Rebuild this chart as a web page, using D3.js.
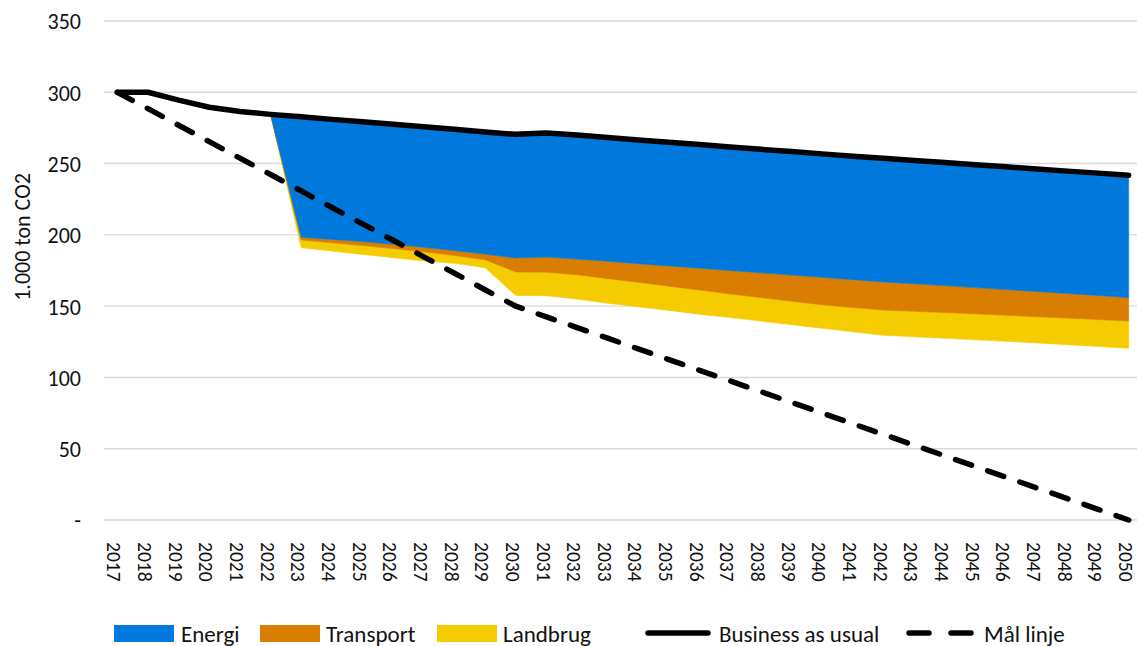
<!DOCTYPE html>
<html>
<head>
<meta charset="utf-8">
<script src="https://cdn.jsdelivr.net/npm/d3@7"></script>
<style>
  html, body { margin: 0; padding: 0; background: #fff; }
  svg { display: block; }
  text { font-family: Carlito, Lato, "Open Sans", sans-serif; fill: #111; }
</style>
</head>
<body>
<svg id="chart" width="1137" height="646"></svg>
<script>
// Years on the category axis
const years = [2017, 2018, 2019, 2020, 2021, 2022, 2023, 2024, 2025, 2026, 2027, 2028,
  2029, 2030, 2031, 2032, 2033, 2034, 2035, 2036, 2037, 2038, 2039, 2040, 2041, 2042,
  2043, 2044, 2045, 2046, 2047, 2048, 2049, 2050];

// Remaining emissions after all reductions (unfilled base of the stack)
const rest = [300, 300, 294.5, 289.5, 286.5, 284.5, 191, 188.7, 186.3, 184, 181.7, 180,
  177, 157.5, 157.3, 155, 152, 149.5, 147, 144.3, 142, 139.5, 137, 134.5, 132, 129.5,
  128.5, 127.5, 126.4, 125.3, 124.2, 123, 121.7, 120.4];

// Reductions per sector (1.000 ton CO2)
const landbrug = [0, 0, 0, 0, 0, 0, 5.4, 5.8, 6.2, 6.4, 6.5, 5.5, 5.5, 16.5, 16.5, 17,
  17.3, 17.2, 17, 17, 16.5, 16.5, 16.5, 16.5, 17, 17.8, 17.9, 18, 18.2, 18.3, 18.4,
  18.6, 18.9, 19.2];
const transport = [0, 0, 0, 0, 0, 0, 1.9, 2.3, 2.8, 3.0, 3.1, 3.5, 4.0, 9.8, 10.6, 11,
  12.2, 13.1, 14.2, 15.3, 16.5, 17.4, 18.3, 19.2, 19.6, 19.7, 19.3, 18.9, 18.4, 18,
  17.7, 17.3, 16.9, 16.4];
const energi = [0, 0, 0, 0, 0, 0, 84.5, 84.2, 84.0, 84.2, 84.5, 85, 85.7, 86.7, 87.1,
  87, 86.8, 86.8, 86.8, 86.7, 86.7, 86.6, 86.6, 86.6, 86.6, 86.7, 86.5, 86.3, 86.2,
  86.1, 85.9, 85.8, 85.8, 85.8];

// Business as usual projection
const bau = [300, 300, 294.5, 289.5, 286.5, 284.5, 282.8, 281, 279.3, 277.6, 275.8, 274,
  272.2, 270.5, 271.5, 270, 268.3, 266.6, 265, 263.3, 261.7, 260, 258.4, 256.8, 255.2,
  253.7, 252.2, 250.7, 249.2, 247.7, 246.2, 244.7, 243.3, 241.8];

// Target path (Mål linje)
const maal = [300, 288.5, 276.9, 265.4, 253.8, 242.3, 230.8, 219.2, 207.7, 196.2, 184.6,
  173.1, 161.5, 150, 142.5, 135, 127.5, 120, 112.5, 105, 97.5, 90, 82.5, 75, 67.5, 60,
  52.5, 45, 37.5, 30, 22.5, 15, 7.5, 0];

const yTicks = [0, 50, 100, 150, 200, 250, 300, 350];

const colors = { Energi: "#0078DC", Transport: "#D97E00", Landbrug: "#F5CC00" };
const fontStack = "Carlito, Lato, 'Open Sans', sans-serif";

const svg = d3.select("#chart");
const plot = { left: 102, right: 1144, top: 21, bottom: 520 };

const x = d3.scaleBand().domain(years).range([plot.left, plot.right]).padding(0);
const xc = d => x(d) + x.bandwidth() / 2;
const y = d3.scaleLinear().domain([0, 350]).range([plot.bottom, plot.top]);

// Gridlines
svg.append("g")
  .selectAll("line")
  .data(yTicks)
  .join("line")
  .attr("x1", 104)
  .attr("x2", 1137)
  .attr("y1", d => y(d))
  .attr("y2", d => y(d))
  .attr("stroke", "#d9d9d9")
  .attr("stroke-width", 1.4);

// Y axis labels
const yAxis = d3.axisLeft(y)
  .tickValues(yTicks)
  .tickSize(0)
  .tickPadding(0)
  .tickFormat(d => d === 0 ? "-" : d3.format("d")(d));
const gy = svg.append("g").attr("transform", "translate(81,0)").call(yAxis);
gy.select(".domain").remove();
gy.selectAll("text")
  .attr("font-size", 22)
  .attr("dy", "0.36em")
  .attr("fill", "#111")
  .style("font-family", fontStack);

// Y axis title
svg.append("text")
  .attr("transform", "translate(30,237) rotate(-90)")
  .attr("text-anchor", "middle")
  .attr("font-size", 22)
  .text("1.000 ton CO2");

// X axis labels (rotated)
const xAxis = d3.axisBottom(x).tickSize(0).tickPadding(0);
const gx = svg.append("g").attr("transform", `translate(-3,${plot.bottom})`).call(xAxis);
gx.select(".domain").remove();
gx.selectAll("text")
  .attr("font-size", 19.5)
  .attr("fill", "#111")
  .style("font-family", fontStack)
  .attr("text-anchor", "start")
  .attr("transform", "translate(0,22) rotate(90)")
  .attr("x", 0)
  .attr("y", 0)
  .attr("dy", "0.35em");

// Stacked areas: remaining emissions (unfilled) + sector reductions
const table = years.map((yr, i) => ({
  year: yr, Rest: rest[i], Landbrug: landbrug[i], Transport: transport[i], Energi: energi[i]
}));
const stack = d3.stack().keys(["Rest", "Landbrug", "Transport", "Energi"]);
const layers = stack(table);

const area = d3.area()
  .x(d => xc(d.data.year))
  .y0(d => y(d[0]))
  .y1(d => y(d[1]));

svg.append("g")
  .selectAll("path")
  .data(layers.filter(l => l.key !== "Rest"))
  .join("path")
  .attr("d", area)
  .attr("fill", l => colors[l.key])
  .attr("stroke", l => colors[l.key])
  .attr("stroke-width", 0.6);

// Business as usual line
const line = d3.line().x((d, i) => xc(years[i])).y(d => y(d));
svg.append("path")
  .attr("d", line(bau))
  .attr("fill", "none")
  .attr("stroke", "#000")
  .attr("stroke-width", 5.5)
  .attr("stroke-linejoin", "round")
  .attr("stroke-linecap", "round");

// Target line
svg.append("path")
  .attr("d", line(maal))
  .attr("fill", "none")
  .attr("stroke", "#000")
  .attr("stroke-width", 5.5)
  .attr("stroke-dasharray", "17,17")
  .attr("stroke-linecap", "round");

// Legend
const legend = svg.append("g");
const legendY = 633;
const baseY = 641.5;
const boxes = [
  { name: "Energi", x: 114, tx: 181 },
  { name: "Transport", x: 260, tx: 326 },
  { name: "Landbrug", x: 437, tx: 503 }
];
boxes.forEach(b => {
  legend.append("rect")
    .attr("x", b.x).attr("y", 625).attr("width", 60).attr("height", 17)
    .attr("fill", colors[b.name]);
  legend.append("text")
    .attr("x", b.tx).attr("y", baseY)
    .attr("font-size", 23).text(b.name);
});
legend.append("line")
  .attr("x1", 648).attr("x2", 708).attr("y1", legendY).attr("y2", legendY)
  .attr("stroke", "#000").attr("stroke-width", 5.5).attr("stroke-linecap", "round");
legend.append("text")
  .attr("x", 719).attr("y", baseY)
  .attr("font-size", 23).text("Business as usual");
legend.append("line")
  .attr("x1", 909).attr("x2", 973).attr("y1", legendY).attr("y2", legendY)
  .attr("stroke", "#000").attr("stroke-width", 5.5)
  .attr("stroke-dasharray", "20,22").attr("stroke-linecap", "round");
legend.append("text")
  .attr("x", 984).attr("y", baseY)
  .attr("font-size", 23).text("Mål linje");
</script>
</body>
</html>
